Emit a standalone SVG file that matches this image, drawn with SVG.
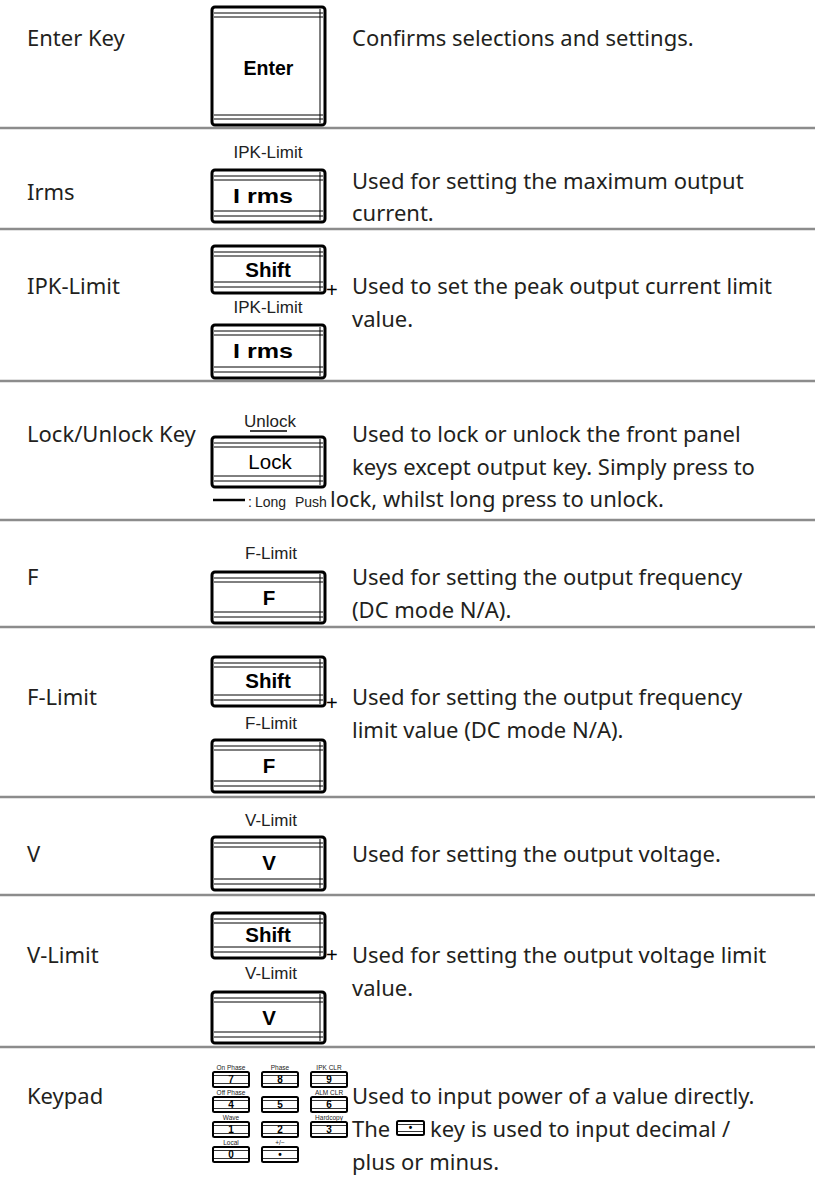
<svg xmlns="http://www.w3.org/2000/svg" width="815" height="1179" viewBox="0 0 815 1179">
<style>
.t{font-family:"Noto Sans","Open Sans",sans-serif;font-size:22px;fill:#231f20}
.k{fill:#fff;stroke:#000;stroke-width:3}
.kl{stroke:#000;stroke-width:1;fill:none}
.kt{font-family:"Liberation Sans",Arial,sans-serif;font-weight:bold;font-size:20.5px;fill:#000;text-anchor:middle}
.kr{font-family:"Liberation Sans",Arial,sans-serif;font-size:20.5px;fill:#000;text-anchor:middle}
.sl{font-family:"Liberation Sans",Arial,sans-serif;font-size:17px;fill:#222;text-anchor:middle}
.pl{font-family:"Liberation Sans",Arial,sans-serif;font-size:20px;fill:#000}
.sk{fill:#fff;stroke:#000;stroke-width:2}
.skl{stroke:#000;stroke-width:0.8;fill:none}
.sd{font-family:"Liberation Sans",Arial,sans-serif;font-weight:bold;font-size:10px;fill:#000;text-anchor:middle}
.st{font-family:"Liberation Sans",Arial,sans-serif;font-size:6.5px;fill:#222;text-anchor:middle}
.sep{stroke:#8c8c8c;stroke-width:2.5}
</style>

<g id="separators">
<line class="sep" x1="0" y1="128" x2="815" y2="128"/>
<line class="sep" x1="0" y1="229" x2="815" y2="229"/>
<line class="sep" x1="0" y1="381" x2="815" y2="381"/>
<line class="sep" x1="0" y1="520" x2="815" y2="520"/>
<line class="sep" x1="0" y1="627" x2="815" y2="627"/>
<line class="sep" x1="0" y1="797" x2="815" y2="797"/>
<line class="sep" x1="0" y1="895" x2="815" y2="895"/>
<line class="sep" x1="0" y1="1047" x2="815" y2="1047"/>
</g>

<g id="row-enter">
<text class="t" x="27" y="46">Enter Key</text>
<rect class="k" x="212" y="7" width="113" height="118" rx="3"/>
<path class="kl" d="M214 13H323M214 17H323M214 115H323M214 119H323M320 9V123"/>
<text class="kt" x="268.5" y="75" style="font-size:19.5px">Enter</text>
<text class="t" x="352" y="46">Confirms selections and settings.</text>
</g>

<g id="row-irms">
<text class="t" x="27" y="200">Irms</text>
<text class="sl" x="268" y="158">IPK-Limit</text>
<rect class="k" x="212" y="170" width="113" height="52" rx="3"/>
<path class="kl" d="M214 176H323M214 180H323M214 211H323M214 216H323M320 172V220"/>
<text class="kt" x="263" y="203" textLength="60" lengthAdjust="spacingAndGlyphs">I rms</text>
<text class="t" x="352" y="189">Used for setting the maximum output</text>
<text class="t" x="352" y="221">current.</text>
</g>

<g id="row-ipk">
<text class="t" x="27" y="294">IPK-Limit</text>
<rect class="k" x="212" y="246" width="113" height="47" rx="3"/>
<path class="kl" d="M214 252H323M214 256H323M214 282H323M214 287H323M320 248V291"/>
<text class="kt" x="268" y="277">Shift</text>
<text class="pl" x="326" y="297">+</text>
<text class="sl" x="268" y="313">IPK-Limit</text>
<rect class="k" x="212" y="325" width="113" height="53" rx="3"/>
<path class="kl" d="M214 331H323M214 335H323M214 367H323M214 372H323M320 327V376"/>
<text class="kt" x="263" y="358" textLength="60" lengthAdjust="spacingAndGlyphs">I rms</text>
<text class="t" x="352" y="294">Used to set the peak output current limit</text>
<text class="t" x="352" y="327">value.</text>
</g>

<g id="row-lock">
<text class="t" x="27" y="442">Lock/Unlock Key</text>
<text class="sl" x="270" y="427">Unlock</text>
<line x1="250" y1="431" x2="287" y2="431" stroke="#000" stroke-width="1.5"/>
<rect class="k" x="212" y="437" width="113" height="50" rx="3"/>
<path class="kl" d="M214 443H323M214 447H323M214 476H323M214 481H323M320 439V485"/>
<text class="kr" x="270" y="469">Lock</text>
<line x1="213" y1="500" x2="245" y2="500" stroke="#000" stroke-width="2.5"/>
<text class="sl" x="248" y="507" style="font-size:14px;text-anchor:start">:</text>
<text class="sl" x="255" y="507" style="font-size:14px;text-anchor:start">Long</text>
<text class="sl" x="295" y="507" style="font-size:14px;text-anchor:start">Push</text>
<text class="t" x="352" y="442">Used to lock or unlock the front panel</text>
<text class="t" x="352" y="475">keys except output key. Simply press to</text>
<text class="t" x="330" y="507">lock, whilst long press to unlock.</text>
</g>

<g id="row-f">
<text class="t" x="27" y="585">F</text>
<text class="sl" x="271" y="559">F-Limit</text>
<rect class="k" x="212" y="572" width="113" height="51" rx="3"/>
<path class="kl" d="M214 578H323M214 582H323M214 612H323M214 617H323M320 574V621"/>
<text class="kt" x="269" y="605">F</text>
<text class="t" x="352" y="585">Used for setting the output frequency</text>
<text class="t" x="352" y="618">(DC mode N/A).</text>
</g>

<g id="row-flimit">
<text class="t" x="27" y="705">F-Limit</text>
<rect class="k" x="212" y="657" width="113" height="49" rx="3"/>
<path class="kl" d="M214 663H323M214 667H323M214 695H323M214 700H323M320 659V704"/>
<text class="kt" x="268" y="688">Shift</text>
<text class="pl" x="326" y="710">+</text>
<text class="sl" x="271" y="729">F-Limit</text>
<rect class="k" x="212" y="740" width="113" height="52" rx="3"/>
<path class="kl" d="M214 746H323M214 750H323M214 781H323M214 786H323M320 742V790"/>
<text class="kt" x="269" y="773">F</text>
<text class="t" x="352" y="705">Used for setting the output frequency</text>
<text class="t" x="352" y="738">limit value (DC mode N/A).</text>
</g>

<g id="row-v">
<text class="t" x="27" y="862">V</text>
<text class="sl" x="271" y="826">V-Limit</text>
<rect class="k" x="212" y="837" width="113" height="53" rx="3"/>
<path class="kl" d="M214 843H323M214 847H323M214 879H323M214 884H323M320 839V888"/>
<text class="kt" x="269" y="870">V</text>
<text class="t" x="352" y="862">Used for setting the output voltage.</text>
</g>

<g id="row-vlimit">
<text class="t" x="27" y="963">V-Limit</text>
<rect class="k" x="212" y="913" width="113" height="45" rx="3"/>
<path class="kl" d="M214 919H323M214 923H323M214 947H323M214 952H323M320 915V956"/>
<text class="kt" x="268" y="942">Shift</text>
<text class="pl" x="326" y="962">+</text>
<text class="sl" x="271" y="979">V-Limit</text>
<rect class="k" x="212" y="992" width="113" height="51" rx="3"/>
<path class="kl" d="M214 998H323M214 1002H323M214 1032H323M214 1037H323M320 994V1041"/>
<text class="kt" x="269" y="1025">V</text>
<text class="t" x="352" y="963">Used for setting the output voltage limit</text>
<text class="t" x="352" y="996">value.</text>
</g>

<g id="row-keypad">
<text class="t" x="27" y="1104">Keypad</text>
<g id="keypad">
<text class="st" x="231" y="1070">On Phase</text>
<text class="st" x="280" y="1070">Phase</text>
<text class="st" x="329" y="1070">IPK CLR</text>
<rect class="sk" x="213" y="1072" width="36" height="15" rx="1.5"/>
<rect class="sk" x="262" y="1072" width="36" height="15" rx="1.5"/>
<rect class="sk" x="311" y="1072" width="36" height="15" rx="1.5"/>
<path class="skl" d="M214 1075.5H248M263 1075.5H297M312 1075.5H346M214 1083.5H248M263 1083.5H297M312 1083.5H346"/>
<text class="sd" x="231" y="1083">7</text>
<text class="sd" x="280" y="1083">8</text>
<text class="sd" x="329" y="1083">9</text>

<text class="st" x="231" y="1095">Off Phase</text>
<text class="st" x="329" y="1095">ALM CLR</text>
<rect class="sk" x="213" y="1097" width="36" height="15" rx="1.5"/>
<rect class="sk" x="262" y="1097" width="36" height="15" rx="1.5"/>
<rect class="sk" x="311" y="1097" width="36" height="15" rx="1.5"/>
<path class="skl" d="M214 1100.5H248M263 1100.5H297M312 1100.5H346M214 1108.5H248M263 1108.5H297M312 1108.5H346"/>
<text class="sd" x="231" y="1108">4</text>
<text class="sd" x="280" y="1108">5</text>
<text class="sd" x="329" y="1108">6</text>

<text class="st" x="231" y="1120">Wave</text>
<text class="st" x="329" y="1120">Hardcopy</text>
<rect class="sk" x="213" y="1122" width="36" height="15" rx="1.5"/>
<rect class="sk" x="262" y="1122" width="36" height="15" rx="1.5"/>
<rect class="sk" x="311" y="1122" width="36" height="15" rx="1.5"/>
<path class="skl" d="M214 1125.5H248M263 1125.5H297M312 1125.5H346M214 1133.5H248M263 1133.5H297M312 1133.5H346"/>
<text class="sd" x="231" y="1133">1</text>
<text class="sd" x="280" y="1133">2</text>
<text class="sd" x="329" y="1133">3</text>

<text class="st" x="231" y="1145">Local</text>
<text class="st" x="280" y="1145">+/−</text>
<rect class="sk" x="213" y="1147" width="36" height="15" rx="1.5"/>
<rect class="sk" x="262" y="1147" width="36" height="15" rx="1.5"/>
<path class="skl" d="M214 1150.5H248M263 1150.5H297M214 1158.5H248M263 1158.5H297"/>
<text class="sd" x="231" y="1158">0</text>
<text class="sd" x="280" y="1158">•</text>
</g>
<text class="t" x="352" y="1104">Used to input power of a value directly.</text>
<text class="t" x="352" y="1137">The</text>
<rect class="sk" x="397" y="1121" width="27" height="14" rx="1.5"/>
<path class="skl" d="M398 1124.5H423M398 1131.5H423"/>
<text class="sd" x="410.5" y="1131">•</text>
<text class="t" x="430" y="1137">key is used to input decimal /</text>
<text class="t" x="352" y="1170">plus or minus.</text>
</g>
</svg>
